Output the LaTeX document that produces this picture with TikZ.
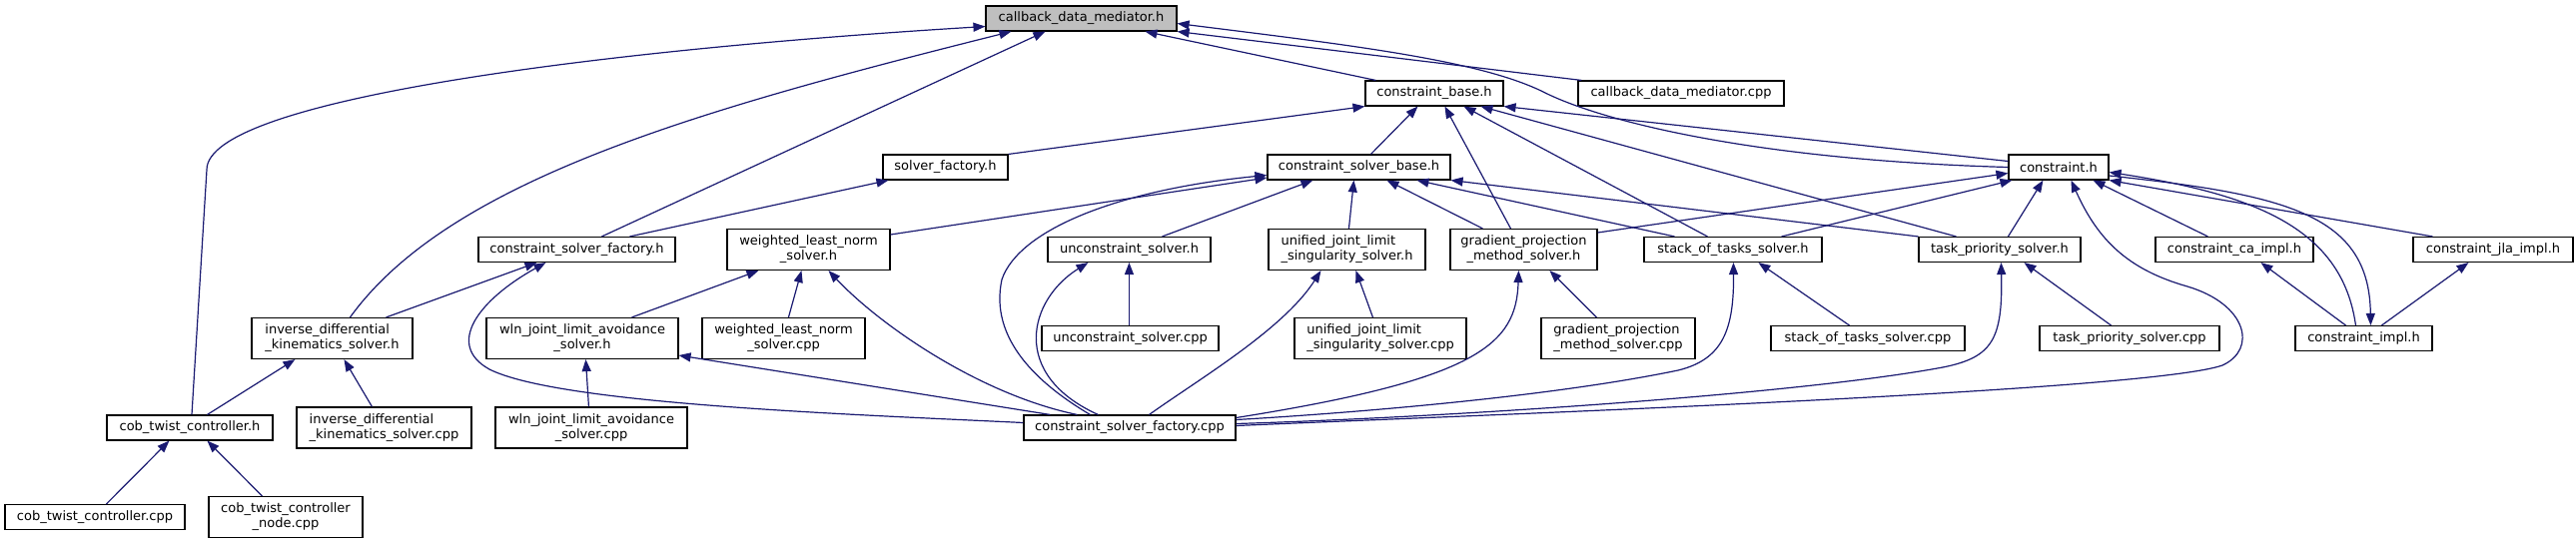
\documentclass[tikz,border=0pt]{standalone}
\usepackage{fontspec}
\setmainfont{DejaVu Sans}
\usepackage{tikz}
\usetikzlibrary{arrows.meta}

\definecolor{edgeblue}{HTML}{191970}
\definecolor{rootgray}{HTML}{BFBFBF}

\newcommand{\twoline}[2]{\begin{tabular}{@{}c@{}}\multicolumn{1}{@{}l@{}}{#1}\\#2\end{tabular}}

\begin{document}
\begin{tikzpicture}[x=1pt,y=-1pt,
  filebox/.style={draw=black, fill=white, line width=1.1pt, inner sep=0pt,
    minimum height=25pt, font=\fontsize{13}{15}\selectfont},
  tallbox/.style={filebox, minimum height=41pt},
  incl/.style={draw=edgeblue, line width=1.2pt, {Triangle[length=12pt,width=9pt]}-}]

\useasboundingbox (0,0) rectangle (2579,544);

\node [filebox, fill=rootgray, minimum width=191pt] (cdm) at (1082.5,18.5) {callback\_data\_mediator.h};

\node [filebox, minimum width=138pt] (cb) at (1436,93.5) {constraint\_base.h};
\node [filebox, minimum width=206pt] (cdmcpp) at (1683,93.5) {callback\_data\_mediator.cpp};

\node [filebox, minimum width=125pt] (sf) at (946.5,167.5) {solver\_factory.h};
\node [filebox, minimum width=183pt] (csb) at (1360.5,167.5) {constraint\_solver\_base.h};
\node [filebox, minimum width=100pt] (con) at (2061,167.5) {constraint.h};

\node [filebox, minimum width=197pt] (csfh) at (577.5,250) {constraint\_solver\_factory.h};
\node [tallbox, minimum width=163pt] (wlnh) at (809.5,250) {\twoline{weighted\_least\_norm}{\_solver.h}};
\node [filebox, minimum width=163pt] (ush) at (1130.5,250) {unconstraint\_solver.h};
\node [tallbox, minimum width=157pt] (ujh) at (1348.5,250) {\twoline{unified\_joint\_limit}{\_singularity\_solver.h}};
\node [tallbox, minimum width=147pt] (gpmh) at (1525.5,250) {\twoline{gradient\_projection}{\_method\_solver.h}};
\node [filebox, minimum width=178pt] (soth) at (1735,250) {stack\_of\_tasks\_solver.h};
\node [filebox, minimum width=162pt] (tph) at (2002,250) {task\_priority\_solver.h};
\node [filebox, minimum width=158pt] (cai) at (2237,250) {constraint\_ca\_impl.h};
\node [filebox, minimum width=160pt] (jlai) at (2496,250) {constraint\_jla\_impl.h};

\node [tallbox, minimum width=161pt] (ikdh) at (332.5,339) {\twoline{inverse\_differential}{\_kinematics\_solver.h}};
\node [tallbox, minimum width=192pt] (wlnjh) at (583,339) {\twoline{wln\_joint\_limit\_avoidance}{\_solver.h}};
\node [tallbox, minimum width=163pt] (wlncpp) at (784.5,339) {\twoline{weighted\_least\_norm}{\_solver.cpp}};
\node [filebox, minimum width=177pt] (uscpp) at (1131.5,339) {unconstraint\_solver.cpp};
\node [tallbox, minimum width=172pt] (ujcpp) at (1382,339) {\twoline{unified\_joint\_limit}{\_singularity\_solver.cpp}};
\node [tallbox, minimum width=154pt] (gpmcpp) at (1620,339) {\twoline{gradient\_projection}{\_method\_solver.cpp}};
\node [filebox, minimum width=194pt] (sotcpp) at (1870,339) {stack\_of\_tasks\_solver.cpp};
\node [filebox, minimum width=180pt] (tpcpp) at (2132,339) {task\_priority\_solver.cpp};
\node [filebox, minimum width=137pt] (impl) at (2366.5,339) {constraint\_impl.h};

\node [filebox, minimum width=166pt] (ctch) at (190,428.5) {cob\_twist\_controller.h};
\node [tallbox, minimum width=175pt] (ikdcpp) at (384.5,428.5) {\twoline{inverse\_differential}{\_kinematics\_solver.cpp}};
\node [tallbox, minimum width=192pt] (wlnjcpp) at (592,428.5) {\twoline{wln\_joint\_limit\_avoidance}{\_solver.cpp}};
\node [filebox, minimum width=212pt] (csfcpp) at (1131,428.5) {constraint\_solver\_factory.cpp};

\node [filebox, minimum width=180pt] (ctccpp) at (95,518) {cob\_twist\_controller.cpp};
\node [tallbox, minimum width=154pt] (ctcnode) at (286,518) {\twoline{cob\_twist\_controller}{\_node.cpp}};

\draw [incl] ([yshift=-8pt]cdm.west) .. controls (600,50) and (207,100) .. (207,170) -- ([xshift=2pt]ctch.north);
\draw [incl] ([xshift=26pt]cdm.south west) .. controls (700,110) and (450,180) .. ([xshift=99pt]ikdh.north west);
\draw [incl] ([xshift=60pt]cdm.south west) -- ([xshift=124pt]csfh.north west);
\draw [incl] ([xshift=160pt]cdm.south west) -- ([xshift=11pt]cb.north west);
\draw [incl] (cdm.south east) -- ([xshift=4pt]cdmcpp.north west);
\draw [incl] ([yshift=-5pt]cdm.east) .. controls (1350,45) and (1480,60) .. (1545,92) .. controls (1600,120) and (1750,160) .. (con.west);

\draw [incl] (cb.south west) -- (sf.north east);
\draw [incl] ([xshift=53pt]cb.south west) -- ([xshift=104pt]csb.north west);
\draw [incl] ([xshift=80pt]cb.south west) -- ([xshift=61pt]gpmh.north west);
\draw [incl] ([xshift=99pt]cb.south west) -- ([xshift=64pt]soth.north west);
\draw [incl] ([xshift=116pt]cb.south west) -- ([xshift=38pt]tph.north west);
\draw [incl] (cb.south east) -- ([yshift=6pt]con.west);

\draw [incl] ([yshift=-10.5pt]csb.west) -- ([yshift=15pt]wlnh.east);
\draw [incl] ([yshift=-8pt]csb.west) .. controls (1120,190) and (1020,230) .. (1003,280) .. controls (990,340) and (1040,385) .. ([xshift=67pt]csfcpp.north west);
\draw [incl] ([xshift=46pt]csb.south west) -- ([xshift=115pt]ush.north west);
\draw [incl] ([xshift=87pt]csb.south west) -- ([xshift=81pt]ujh.north west);
\draw [incl] ([xshift=120pt]csb.south west) -- ([xshift=33pt]gpmh.north west);
\draw [incl] ([xshift=150pt]csb.south west) -- ([xshift=31pt]soth.north west);
\draw [incl] (csb.south east) -- (tph.north west);

\draw [incl] ([yshift=-6pt]con.west) -- ([yshift=17pt]gpmh.east);
\draw [incl] ([xshift=4pt]con.south west) -- ([xshift=-41pt]soth.north east);
\draw [incl] ([xshift=35pt]con.south west) -- ([xshift=90pt]tph.north west);
\draw [incl] ([xshift=63pt]con.south west) .. controls (2100,240) and (2130,270) .. (2190,287) .. controls (2250,305) and (2260,350) .. (2225,366) .. controls (2150,392) and (1500,415) .. ([yshift=2pt]csfcpp.east);
\draw [incl] ([xshift=85pt]con.south west) -- ([xshift=53pt]cai.north west);
\draw [incl] ([yshift=-5pt]con.east) .. controls (2260,195) and (2345,230) .. ([xshift=61pt]impl.north west);
\draw [incl] ([xshift=76pt]impl.north west) .. controls (2372,215) and (2290,195) .. ([yshift=-8.5pt]con.east);
\draw [incl] (con.south east) -- ([xshift=20pt]jlai.north west);

\draw [incl] ([xshift=106pt]cai.south west) -- ([xshift=51pt]impl.north west);
\draw [incl] ([xshift=56pt]jlai.south west) -- ([xshift=87pt]impl.north west);

\draw [incl] ([xshift=6pt]sf.south west) -- ([xshift=152pt]csfh.north west);

\draw [incl] ([xshift=59pt]csfh.south west) -- ([xshift=135pt]ikdh.north west);
\draw [incl] ([xshift=68pt]csfh.south west) .. controls (480,300) and (445,345) .. (490,370) .. controls (560,405) and (850,415) .. ([yshift=5pt]csfcpp.west);

\draw [incl] ([xshift=32pt]wlnh.south west) -- ([xshift=146pt]wlnjh.north west);
\draw [incl] ([xshift=75pt]wlnh.south west) -- ([xshift=87pt]wlncpp.north west);
\draw [incl] ([xshift=102pt]wlnh.south west) .. controls (880,325) and (980,395) .. ([xshift=54pt]csfcpp.north west);

\draw [incl] ([xshift=100pt]wlnjh.south west) -- ([xshift=94pt]wlnjcpp.north west);
\draw [incl] ([yshift=-17pt]wlnjh.east) -- ([xshift=27pt]csfcpp.north west);

\draw [incl] ([xshift=44pt]ikdh.south west) -- ([xshift=101pt]ctch.north west);
\draw [incl] ([xshift=93pt]ikdh.south west) -- ([xshift=76pt]ikdcpp.north west);

\draw [incl] ([xshift=63pt]ctch.south west) -- ([xshift=102pt]ctccpp.north west);
\draw [incl] ([xshift=101pt]ctch.south west) -- ([xshift=54pt]ctcnode.north west);

\draw [incl] ([xshift=82pt]ush.south west) -- ([xshift=88pt]uscpp.north west);
\draw [incl] ([xshift=41pt]ush.south west) .. controls (1030,300) and (1010,375) .. ([xshift=75pt]csfcpp.north west);

\draw [incl] ([xshift=53pt]ujh.south west) .. controls (1285,330) and (1200,380) .. ([xshift=126pt]csfcpp.north west);
\draw [incl] ([xshift=88pt]ujh.south west) -- ([xshift=79pt]ujcpp.north west);

\draw [incl] ([xshift=69pt]gpmh.south west) .. controls (1518,345) and (1480,380) .. ([yshift=10pt]csfcpp.east);
\draw [incl] ([xshift=100pt]gpmh.south west) -- ([xshift=56pt]gpmcpp.north west);

\draw [incl] ([xshift=90pt]soth.south west) .. controls (1736,330) and (1725,360) .. (1680,371) .. controls (1550,398) and (1350,414) .. ([yshift=8pt]csfcpp.east);
\draw [incl] ([xshift=115pt]soth.south west) -- ([xshift=79pt]sotcpp.north west);

\draw [incl] ([xshift=83pt]tph.south west) .. controls (2005,340) and (1995,358) .. (1945,368) .. controls (1800,395) and (1450,418) .. ([yshift=4pt]csfcpp.east);
\draw [incl] ([xshift=106pt]tph.south west) -- ([xshift=72pt]tpcpp.north west);

\end{tikzpicture}
\end{document}
